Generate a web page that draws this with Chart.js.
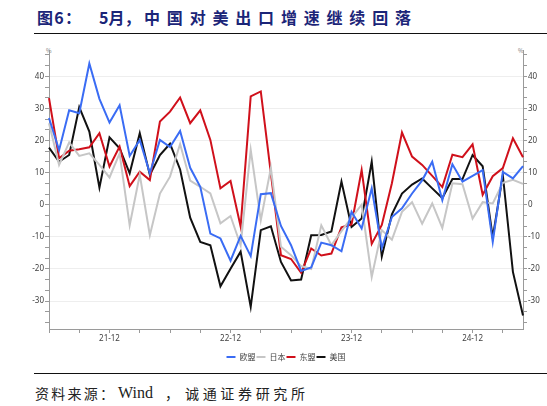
<!DOCTYPE html>
<html>
<head>
<meta charset="utf-8">
<script src="https://cdn.jsdelivr.net/npm/chart.js@4.4.1/dist/chart.umd.min.js"></script>
<style>
  body { margin: 0; width: 547px; height: 406px; background: #fff; position: relative; overflow: hidden; font-family: "Noto Sans CJK SC", sans-serif; }
  .just { position: absolute; white-space: nowrap; text-align: justify; text-align-last: justify; text-justify: inter-character; }
  .title { top: 8px; font-size: 16px; line-height: 18px; font-weight: 700; color: #1b2578; }
  .rule { position: absolute; left: 34px; right: 0; height: 0; border-top: 1.5px solid #111; }
  .src { top: 385px; font-size: 14px; line-height: 16px; color: #222; }
  .pct { position: absolute; top: 46px; font-size: 6px; color: #777; }
  #wrap { position: absolute; left: 0; top: 40px; width: 547px; height: 331px; }
</style>
</head>
<body>
<div class="just title" style="left:37px;width:44px">图6：</div>
<div class="just title" style="left:99px;width:38px">5月，</div>
<div class="just title" style="left:144px;width:267px">中国对美出口增速继续回落</div>
<div class="rule" style="top:33px"></div>
<div class="pct" style="left:46px">%</div>
<div class="pct" style="left:518px">%</div>
<div id="wrap"><canvas id="priceChart"></canvas></div>
<div class="rule" style="top:373px"></div>
<div class="just src" style="left:35px;width:79px">资料来源：</div>
<div class="just src" style="left:118px;font-family:'Liberation Serif',serif;font-size:16px">Wind</div>
<div class="just src" style="left:165px">，</div>
<div class="just src" style="left:185px;width:120px">诚通证券研究所</div>
<script>
// months 21-06 .. 25-05
const months = [
  '21-06', '21-07', '21-08', '21-09', '21-10', '21-11', '21-12',
  '22-01', '22-02', '22-03', '22-04', '22-05', '22-06', '22-07', '22-08', '22-09', '22-10', '22-11', '22-12',
  '23-01', '23-02', '23-03', '23-04', '23-05', '23-06', '23-07', '23-08', '23-09', '23-10', '23-11', '23-12',
  '24-01', '24-02', '24-03', '24-04', '24-05', '24-06', '24-07', '24-08', '24-09', '24-10', '24-11', '24-12',
  '25-01', '25-02', '25-03', '25-04', '25-05'
];

// export growth yoy, %
const eu = [27, 17, 29.4, 28.5, 44, 33, 25.6, 31, 15.2, 20.2,
  9.8, 20.2, 18, 23, 11.5, 5.6, -9, -10.5, -17.4, -9.7,
  -16, 3.3, 3.6, -6.6, -12.6, -20.6, -19.5, -11.8, -12.6, -14.5,
  -2.2, -7.4, 5.1, -13.5, -3.8, -1.1, 3.5, 7.6, 13.4, 1.4,
  12.6, 7.2, 9, 10.8, -11.6, 10.2, 8.2, 12];
const japan = [25.4, 12.4, 19.4, 15.2, 16, 12.4, 8.5, 16, -6.4, 9.3,
  -9.5, 3.5, 8.75, 18.9, 7.5, 5.6, 3.5, -5.8, -3.5, -12.6,
  17.1, -4.8, 11.4, -13.1, -15.7, -19.1, -20, -6.4, -12.6, -8.2,
  -4, 0, -22.5, -7.9, -10.9, -2.2, 0.8, -5.9, 0.4, -7.2,
  6.7, 6.4, -4.3, 0.8, 0.4, 6.8, 7.8, 6.5];
const asean = [33.2, 14.5, 16.8, 17.3, 17.9, 22.3, 11.9, 18.1, 5.8, 10.3,
  7.7, 25.9, 29, 33.4, 25.4, 29.4, 20.2, 5.1, 7.4, -6.8,
  33.75, 35.3, 9.8, -15.7, -16.9, -21.2, -13.6, -15.8, -15.2, -7,
  -6.1, 10.8, -12.2, -6.3, 6.7, 22.5, 15, 12.4, 9, 5.5,
  15.6, 14.8, 18.8, 3.1, 8.9, 11.4, 20.7, 14.8];
const us = [17.8, 13.4, 15.5, 30.4, 22.8, 5.3, 21, 17.6, 9.8, 22.3,
  9.3, 15.5, 19, 11, -4, -11.6, -12.6, -25.4, -19.9, -14.6,
  -31.8, -7.9, -6.7, -17.8, -23.6, -23.3, -9.5, -9.4, -8.3, 7.2,
  -6.9, -4.3, 13.4, -16.1, -3, 3.5, 6.3, 8.2, 5.1, 2.1,
  8, 8, 15.5, 12, -10.2, 9.2, -20.9, -34.5];

const yLabels = [-30, -20, -10, 0, 10, 20, 30, 40];
const yMin = -38.7;
const yMax = 48.2;
const minorPerMajor = 3; // small ticks split each 10 into thirds

const isMajor = v => yLabels.some(t => Math.abs(t - v) < 1e-6);

// labelled ticks plus the small ones in between
function buildYTicks(scale) {
  const ticks = [];
  const step = 10 / minorPerMajor;
  for (let k = Math.ceil(yMin / step); k * step <= yMax; k++) {
    const v = k % minorPerMajor === 0 ? (k / minorPerMajor) * 10 : k * step;
    ticks.push({ value: v });
  }
  scale.ticks = ticks;
}

const tickFont = { family: 'Noto Sans', size: 8 };

function yAxis(position, width) {
  return {
    type: 'linear',
    position,
    min: yMin,
    max: yMax,
    afterBuildTicks: buildYTicks,
    afterFit: s => { s.width = width; },
    border: { color: '#9a9a9a' },
    grid: {
      drawOnChartArea: position === 'left',
      tickLength: 4,
      color: ctx => (ctx.tick && isMajor(ctx.tick.value) ? '#eeeeee' : 'rgba(0,0,0,0)'),
      tickColor: '#9a9a9a'
    },
    ticks: {
      autoSkip: false,
      padding: 1,
      color: '#404040',
      font: tickFont,
      callback: v => (isMajor(v) ? v : '')
    }
  };
}

const line = (label, data, color) => ({
  label,
  data,
  borderColor: color,
  backgroundColor: color,
  borderWidth: 2,
  pointRadius: 0,
  tension: 0,
  fill: false
});

new Chart(document.getElementById('priceChart').getContext('2d'), {
  type: 'line',
  data: {
    labels: months,
    datasets: [
      line('欧盟', eu, '#3a6cf4'),
      line('日本', japan, '#c6c6c6'),
      line('东盟', asean, '#d0101b'),
      line('美国', us, '#111111')
    ]
  },
  options: {
    responsive: true,
    maintainAspectRatio: false,
    animation: false,
    layout: { padding: { top: 10, left: 0, right: 0, bottom: 0 } },
    plugins: {
      tooltip: { enabled: false },
      legend: {
        position: 'bottom',
        fullSize: false,
        labels: {
          boxWidth: 9,
          boxHeight: 2,
          padding: 1,
          color: '#444',
          font: { family: 'Noto Sans CJK SC', size: 8 },
          generateLabels: chart => {
            const items = Chart.defaults.plugins.legend.labels.generateLabels(chart);
            items.forEach(it => { it.lineWidth = 0; });
            return items;
          }
        }
      }
    },
    scales: {
      x: {
        type: 'category',
        offset: false,
        afterFit: s => { s.height = 23; },
        border: { color: '#9a9a9a' },
        grid: {
          drawOnChartArea: false,
          tickLength: 4,
          color: ctx => (ctx.index % 3 === 0 ? '#9a9a9a' : 'rgba(0,0,0,0)')
        },
        ticks: {
          autoSkip: false,
          maxRotation: 0,
          minRotation: 0,
          padding: 1,
          color: '#404040',
          font: tickFont,
          callback: function (v) {
            const l = this.getLabelForValue(v);
            return l.endsWith('-12') ? l : '';
          }
        }
      },
      y: yAxis('left', 49),
      y2: yAxis('right', 24)
    }
  }
});
</script>
</body>
</html>
